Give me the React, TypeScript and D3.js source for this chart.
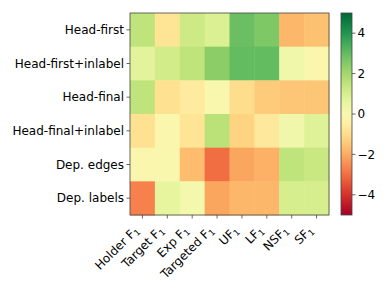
import React from "react";
import * as d3 from "d3";

const rows = ["Head-first", "Head-first+inlabel", "Head-final", "Head-final+inlabel", "Dep. edges", "Dep. labels"];
const cols = ["Holder", "Target", "Exp", "Targeted", "U", "L", "NS", "S"];
const colSep = [" ", " ", " ", " ", "", "", "", ""];
const values: number[][] = [
  [1.5, -0.8, 1.2, 0.9, 2.9, 2.6, -1.8, -1.6],
  [0.7, 1.1, 1.5, 2.4, 3.0, 3.0, 0.3, -0.1],
  [1.5, -0.9, -0.6, 0.0, -1.0, -1.4, -1.5, -1.5],
  [-0.9, -0.1, -0.8, 1.6, -1.2, -0.7, 0.3, 0.8],
  [-0.1, -0.05, -1.7, -3.0, -2.1, -1.9, 1.5, 1.3],
  [-2.7, 0.6, 0.2, -2.1, -1.8, -1.8, 1.0, 1.0],
];
const cbTicks = [-4, -2, 0, 2, 4];

export default function App() {
  const W = 392, H = 294;
  const x = d3.scaleBand<string>().domain(cols).range([130, 329]);
  const y = d3.scaleBand<string>().domain(rows).range([13, 215]);
  const color = (v: number) => d3.interpolateRdYlGn((v + 5) / 10);
  const cb = d3.scaleLinear().domain([-5, 5]).range([215, 13]);
  const cbX0 = 341, cbX1 = 352;
  const stops = d3.range(0, 1.0001, 0.05);
  const font = "DejaVu Sans, sans-serif";
  const fs = 12;
  return (
    <svg width={W} height={H} style={{ position: "absolute", left: 0, top: 0, background: "#fff" }} fontFamily={font}>
      <defs>
        <linearGradient id="cbg" x1="0" y1="1" x2="0" y2="0">
          {stops.map((t) => (
            <stop key={t} offset={t} stopColor={d3.interpolateRdYlGn(t)} />
          ))}
        </linearGradient>
      </defs>
      {values.map((row, i) =>
        row.map((v, j) => (
          <rect key={`${i}-${j}`} x={x(cols[j])} y={y(rows[i])} width={x.bandwidth() + 0.5} height={y.bandwidth() + 0.5} fill={color(v)} />
        ))
      )}
      <rect x={130} y={13} width={199} height={202} fill="none" stroke="#444" strokeWidth={0.8} />
      {rows.map((r) => {
        const yy = (y(r) as number) + y.bandwidth() / 2;
        return (
          <g key={r}>
            <line x1={126.5} x2={130} y1={yy} y2={yy} stroke="#444" strokeWidth={0.8} />
            <text x={124} y={yy} dy="0.35em" textAnchor="end" fontSize={fs} fill="#000">{r}</text>
          </g>
        );
      })}
      {cols.map((c, j) => {
        const xx = (x(c) as number) + x.bandwidth() / 2;
        return (
          <g key={c}>
            <line x1={xx} x2={xx} y1={215} y2={218.5} stroke="#444" strokeWidth={0.8} />
            <g transform={`translate(${xx - 3},${231}) rotate(-45)`}>
              <text textAnchor="end" fontSize={fs} fill="#000">
                {c + colSep[j] + "F"}
                <tspan fontSize={8.5} dy="2.5">1</tspan>
              </text>
            </g>
          </g>
        );
      })}
      <rect x={cbX0} y={13} width={cbX1 - cbX0} height={202} fill="url(#cbg)" stroke="#444" strokeWidth={0.8} />
      {cbTicks.map((t) => (
        <g key={t}>
          <line x1={cbX1} x2={cbX1 + 3.5} y1={cb(t)} y2={cb(t)} stroke="#444" strokeWidth={0.8} />
          <text x={cbX1 + 5.5} y={cb(t)} dy="0.35em" fontSize={fs} fill="#000">{t < 0 ? "\u2212" + Math.abs(t) : String(t)}</text>
        </g>
      ))}
    </svg>
  );
}
